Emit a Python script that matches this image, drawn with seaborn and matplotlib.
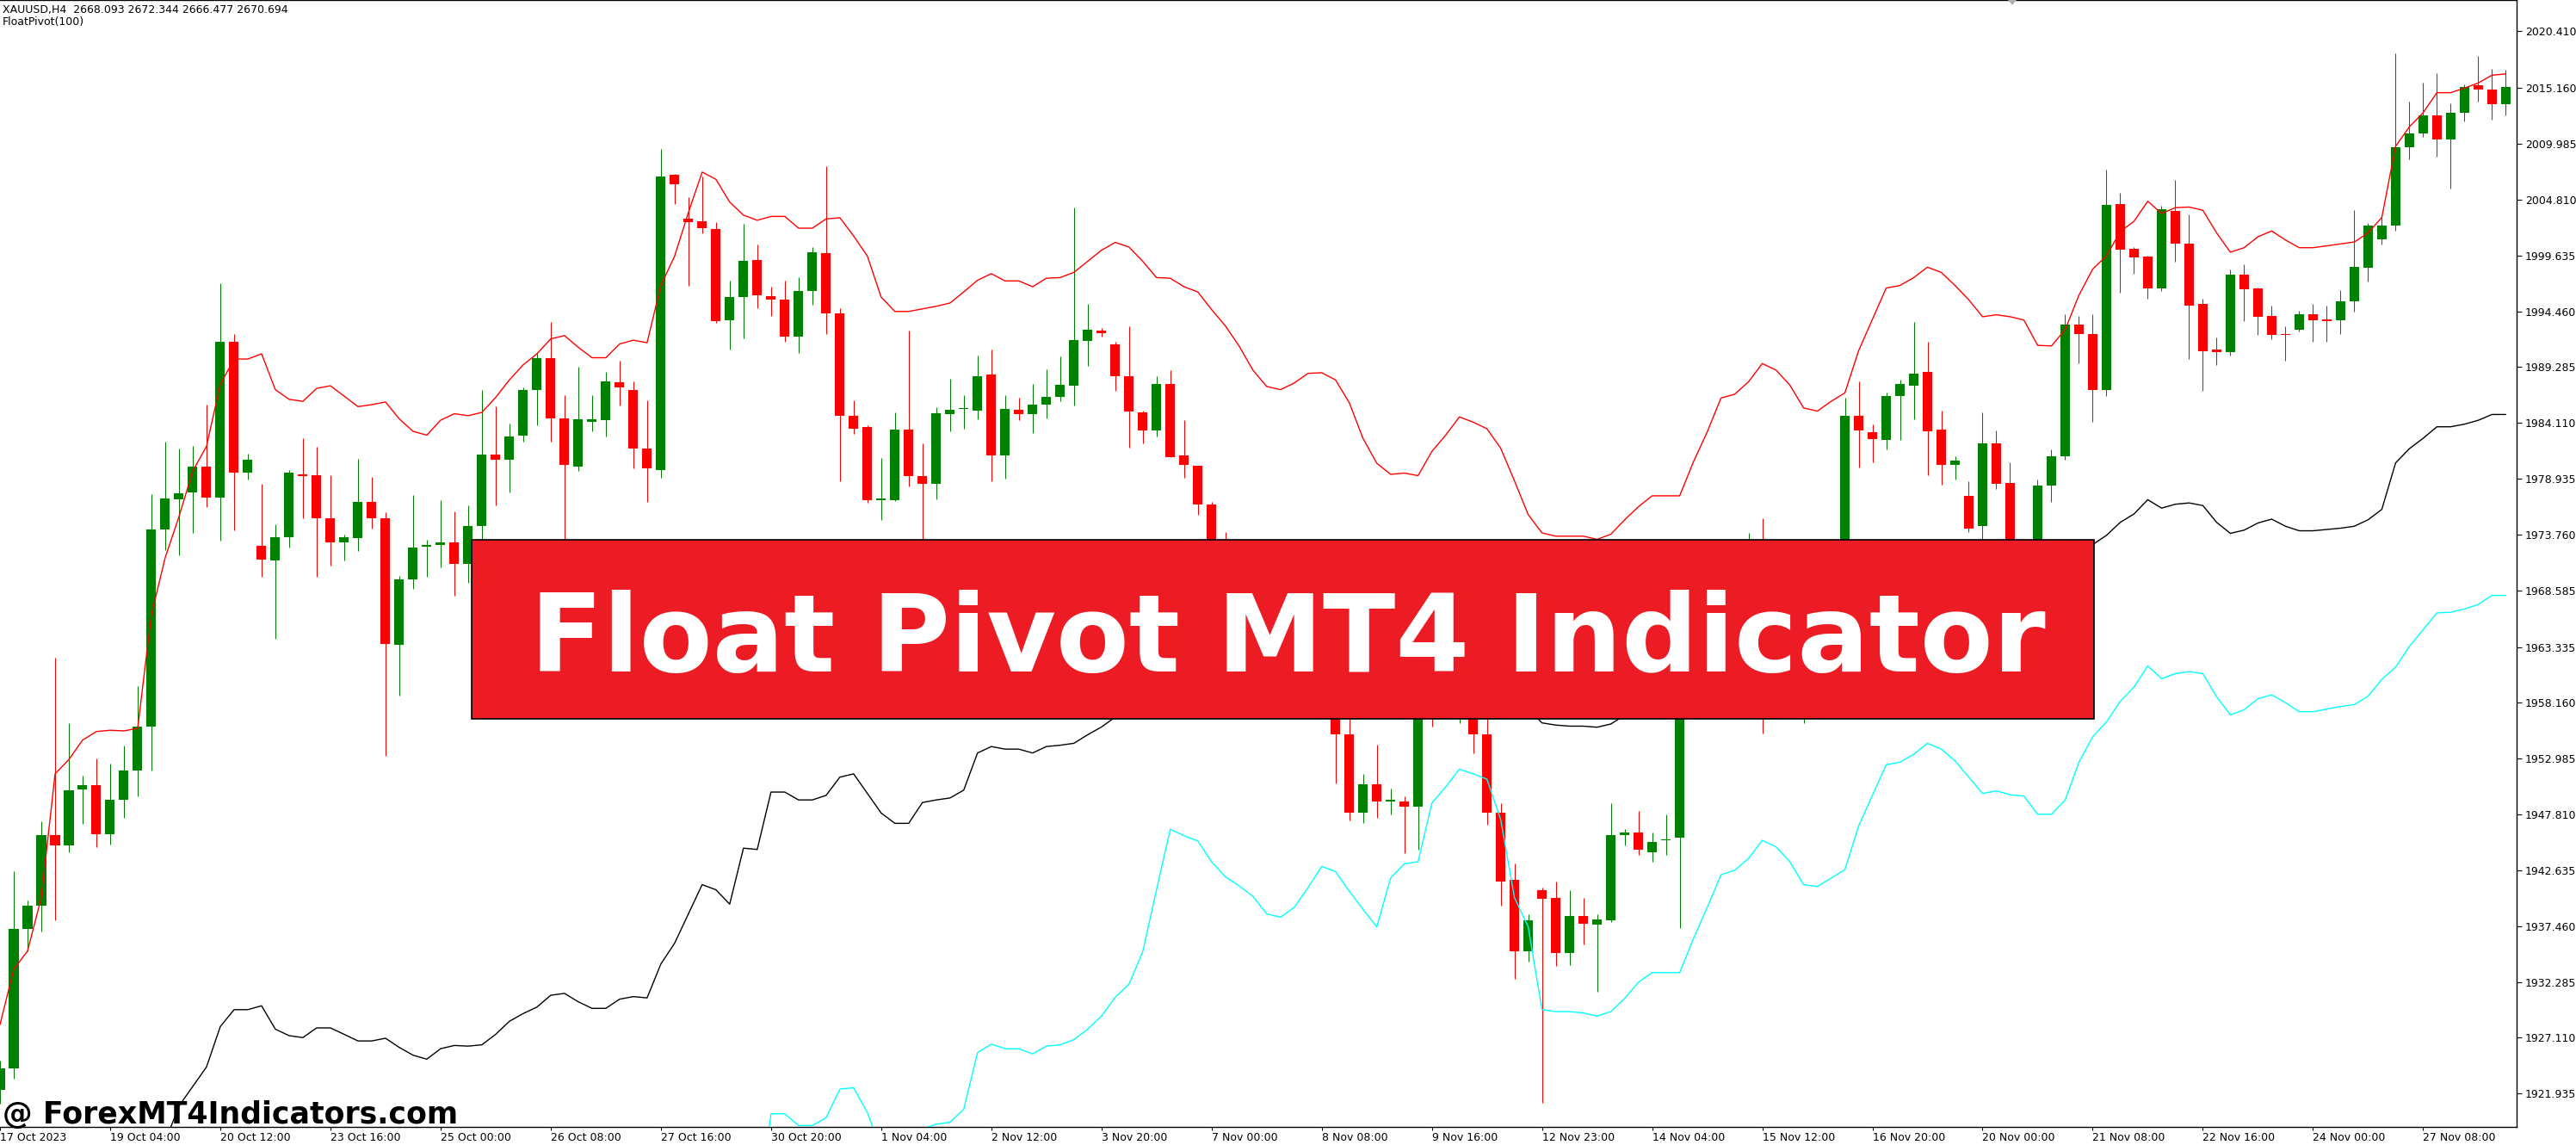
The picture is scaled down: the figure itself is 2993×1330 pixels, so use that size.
#module begins
'''
XAUUSD H4 chart with the FloatPivot(100) indicator, redrawn with seaborn.
Values were read off the screenshot by eye.
'''

#imports
import numpy as np
import pandas as pd
import seaborn as sns
import matplotlib
matplotlib.use("Agg")
import matplotlib.pyplot as plt
from matplotlib.patches import Rectangle, Polygon

#candles, one entry per H4 bar
opens = [
    1922.30, 1924.29, 1937.21, 1939.32, 1945.90, 1944.93, 1950.13, 1950.55, 1946.02, 1949.16,
    1951.88, 1955.92, 1974.27, 1977.05, 1977.65, 1980.07, 1977.17, 1991.60, 1979.53, 1972.70,
    1971.38, 1973.49, 1979.34, 1979.22, 1975.24, 1973.01, 1973.43, 1976.75, 1975.24, 1963.53,
    1969.63, 1972.64, 1972.83, 1973.07, 1971.07, 1974.58, 1981.16, 1980.67, 1982.91, 1987.19,
    1990.09, 1984.54, 1980.07, 1984.24, 1984.36, 1987.86, 1987.19, 1981.76, 1979.77, 2007.11,
    2003.07, 2002.77, 2002.10, 1993.65, 1995.76, 1999.21, 1995.88, 1995.52, 1992.14, 1996.37,
    1999.87, 1994.26, 1984.78, 1983.69, 1976.93, 1976.93, 1983.45, 1979.16, 1978.44, 1984.90,
    1985.38, 1985.26, 1988.58, 1981.10, 1985.32, 1984.90, 1985.80, 1986.53, 1987.56, 1991.72,
    1992.63, 1991.42, 1988.46, 1985.08, 1983.39, 1987.68, 1981.10, 1980.13, 1976.57, 1971.80,
    1969.20, 1970.60, 1966.80, 1967.90, 1963.10, 1964.90, 1961.20, 1962.60, 1955.20, 1947.95,
    1950.61, 1949.04, 1949.04, 1948.56, 1962.00, 1958.70, 1960.20, 1961.00, 1955.20, 1947.95,
    1941.74, 1935.10, 1940.83, 1940.11, 1934.97, 1938.42, 1937.57, 1937.99, 1945.90, 1946.14,
    1944.33, 1945.42, 1945.66, 1961.30, 1963.20, 1962.00, 1966.00, 1967.30, 1970.50, 1962.50,
    1963.80, 1962.20, 1963.50, 1964.80, 1962.60, 1984.78, 1983.27, 1982.54, 1986.59, 1987.56,
    1988.82, 1983.45, 1980.25, 1977.35, 1974.52, 1982.24, 1978.56, 1970.80, 1968.20, 1978.32,
    1981.04, 1993.23, 1992.32, 1987.19, 2004.36, 2000.23, 1999.51, 1996.57, 2003.76, 2000.70,
    1995.13, 1990.88, 1990.64, 1997.89, 1996.57, 1994.00, 1992.38, 1992.74, 1994.18, 1993.70,
    1993.64, 1995.37, 1998.49, 2001.12, 2002.44, 2009.63, 2010.95, 2012.62, 2010.35, 2012.86,
    2015.38, 2015.02, 2013.64,
]
highs = [
    1925.00, 1942.52, 1939.80, 1947.17, 1962.32, 1956.28, 1951.39, 1953.02, 1952.54, 1954.23,
    1959.73, 1977.53, 1982.36, 1981.76, 1982.00, 1985.80, 1997.09, 1992.32, 1981.28, 1978.44,
    1974.70, 1979.71, 1982.73, 1981.88, 1979.22, 1973.79, 1980.79, 1979.10, 1975.84, 1969.93,
    1977.41, 1973.31, 1976.93, 1975.90, 1976.45, 1987.19, 1985.68, 1984.05, 1987.43, 1990.69,
    1993.47, 1986.65, 1989.31, 1986.71, 1988.82, 1989.91, 1987.92, 1986.17, 2009.47, 2007.20,
    2005.00, 2006.99, 2002.71, 1997.33, 2002.53, 2000.65, 1996.73, 1997.27, 1997.58, 2000.41,
    2007.90, 1994.74, 1986.17, 1983.87, 1980.85, 1985.08, 1992.63, 1982.24, 1985.56, 1988.16,
    1986.65, 1990.33, 1990.94, 1986.65, 1986.47, 1987.74, 1989.06, 1990.27, 2004.10, 1995.16,
    1992.93, 1991.66, 1993.05, 1985.26, 1988.40, 1989.00, 1984.36, 1980.13, 1976.80, 1974.03,
    1971.50, 1972.20, 1968.90, 1969.00, 1965.80, 1966.00, 1963.50, 1964.00, 1957.50, 1951.58,
    1954.29, 1950.19, 1949.46, 1964.50, 1966.50, 1961.60, 1963.00, 1962.40, 1957.20, 1948.86,
    1943.24, 1938.60, 1941.01, 1941.61, 1940.83, 1940.11, 1938.60, 1948.86, 1946.44, 1948.13,
    1946.14, 1947.83, 1962.00, 1964.00, 1965.50, 1966.80, 1968.50, 1973.91, 1975.24, 1965.00,
    1966.00, 1964.00, 1966.00, 1966.70, 1986.47, 1987.92, 1983.99, 1986.89, 1988.10, 1993.47,
    1991.60, 1985.26, 1981.04, 1978.74, 1985.08, 1983.39, 1980.43, 1973.00, 1978.86, 1981.64,
    1994.20, 1994.00, 1994.20, 2007.60, 2005.44, 2000.41, 1999.60, 2004.24, 2006.63, 2003.46,
    1995.61, 1992.02, 1998.37, 1998.85, 1996.69, 1995.01, 1993.04, 1994.54, 1995.13, 1994.95,
    1996.45, 2003.82, 2002.62, 2003.22, 2018.37, 2013.88, 2015.62, 2016.52, 2013.70, 2015.50,
    2018.13, 2016.94, 2016.82,
]
lows = [
    1921.00, 1923.32, 1935.16, 1936.97, 1937.99, 1944.33, 1946.93, 1944.81, 1945.06, 1947.53,
    1949.46, 1951.88, 1972.34, 1971.80, 1973.91, 1976.33, 1973.19, 1974.15, 1978.86, 1969.87,
    1964.13, 1972.58, 1975.24, 1969.87, 1970.89, 1971.32, 1972.22, 1974.33, 1953.27, 1958.82,
    1968.72, 1969.81, 1970.71, 1968.12, 1969.26, 1972.70, 1976.45, 1977.65, 1982.36, 1983.87,
    1982.36, 1971.00, 1979.65, 1983.33, 1982.85, 1985.74, 1979.89, 1976.75, 1979.04, 2004.40,
    1996.85, 2001.68, 1993.41, 1990.94, 1991.96, 1994.74, 1994.01, 1991.66, 1990.57, 1995.04,
    1992.38, 1978.74, 1983.09, 1976.69, 1975.12, 1976.87, 1978.26, 1972.10, 1977.05, 1983.33,
    1983.57, 1984.48, 1978.74, 1978.92, 1984.36, 1983.15, 1984.54, 1986.11, 1985.74, 1989.37,
    1992.14, 1987.07, 1981.82, 1982.18, 1982.85, 1980.90, 1979.04, 1975.60, 1971.00, 1968.50,
    1966.80, 1965.90, 1964.20, 1962.00, 1961.30, 1960.40, 1958.90, 1950.67, 1947.23, 1947.05,
    1947.47, 1947.83, 1944.21, 1944.51, 1955.92, 1957.40, 1956.29, 1953.51, 1946.87, 1939.38,
    1932.56, 1934.19, 1921.09, 1933.77, 1933.89, 1935.76, 1931.35, 1937.81, 1944.93, 1944.03,
    1943.43, 1944.03, 1937.27, 1959.20, 1961.00, 1961.40, 1964.60, 1966.20, 1955.32, 1960.00,
    1961.20, 1956.28, 1962.00, 1961.80, 1961.50, 1979.95, 1980.43, 1981.64, 1982.54, 1984.48,
    1979.22, 1978.38, 1978.86, 1974.03, 1972.70, 1978.02, 1969.50, 1966.50, 1967.40, 1976.81,
    1980.67, 1989.61, 1984.17, 1986.59, 1996.21, 1997.95, 1995.61, 1996.33, 1999.09, 1990.04,
    1987.05, 1989.44, 1990.34, 1993.52, 1992.26, 1991.90, 1989.86, 1992.62, 1991.66, 1991.66,
    1992.32, 1994.41, 1997.23, 2000.64, 2001.90, 2008.55, 2010.59, 2008.79, 2005.80, 2012.02,
    2013.88, 2012.20, 2012.62,
]
closes = [
    1924.27, 1937.21, 1939.32, 1945.90, 1944.93, 1950.07, 1950.55, 1946.02, 1949.16, 1951.88,
    1955.92, 1974.27, 1977.11, 1977.59, 1980.07, 1977.17, 1991.60, 1979.53, 1980.67, 1971.44,
    1973.49, 1979.47, 1979.16, 1975.24, 1973.01, 1973.49, 1976.75, 1975.24, 1963.59, 1969.63,
    1972.58, 1972.83, 1973.07, 1971.07, 1974.58, 1981.16, 1980.73, 1982.85, 1987.19, 1990.09,
    1984.54, 1980.19, 1984.42, 1984.42, 1987.92, 1987.37, 1981.70, 1979.89, 2006.99, 2006.21,
    2002.71, 2002.16, 1993.53, 1995.76, 1999.15, 1995.95, 1995.52, 1992.14, 1996.37, 1999.93,
    1994.26, 1984.78, 1983.57, 1976.93, 1977.11, 1983.45, 1979.16, 1978.44, 1985.02, 1985.32,
    1985.50, 1988.46, 1981.10, 1985.38, 1984.90, 1985.80, 1986.53, 1987.62, 1991.78, 1992.75,
    1992.45, 1988.46, 1985.14, 1983.39, 1987.68, 1980.97, 1980.25, 1976.57, 1971.80, 1969.20,
    1970.60, 1966.80, 1967.90, 1963.10, 1964.90, 1961.20, 1962.60, 1955.20, 1947.95, 1950.61,
    1948.98, 1949.16, 1948.50, 1962.00, 1958.70, 1960.20, 1961.00, 1955.20, 1947.95, 1941.61,
    1935.10, 1937.99, 1939.99, 1934.97, 1938.42, 1937.69, 1938.11, 1945.90, 1946.14, 1944.51,
    1945.24, 1945.54, 1961.30, 1963.20, 1962.00, 1966.00, 1967.30, 1970.50, 1962.50, 1963.80,
    1962.20, 1963.50, 1964.80, 1962.60, 1984.78, 1983.39, 1982.60, 1986.59, 1987.68, 1988.64,
    1983.33, 1980.25, 1980.61, 1974.33, 1982.24, 1978.44, 1970.80, 1968.20, 1978.32, 1981.04,
    1993.23, 1992.32, 1987.19, 2004.28, 2000.17, 1999.45, 1996.57, 2003.88, 2000.70, 1995.01,
    1990.76, 1990.64, 1997.89, 1996.51, 1993.94, 1992.26, 1992.26, 1994.18, 1993.64, 1993.58,
    1995.37, 1998.55, 2002.44, 2002.44, 2009.63, 2010.95, 2012.62, 2010.35, 2012.86, 2015.26,
    2015.02, 2013.64, 2015.26,
]

#FloatPivot(100) lines
upper = [
    1928.33, 1933.47, 1935.16, 1940.11, 1951.58, 1952.90, 1954.71, 1955.50, 1955.62, 1955.56,
    1955.80, 1966.37, 1971.62, 1975.42, 1979.65, 1981.94, 1987.68, 1990.03, 1990.03, 1990.51,
    1987.19, 1986.29, 1986.11, 1987.31, 1987.55, 1986.59, 1985.62, 1985.80, 1986.05, 1984.48,
    1983.33, 1982.97, 1984.36, 1984.96, 1984.78, 1985.08, 1986.47, 1988.10, 1989.49, 1990.51,
    1991.90, 1992.20, 1991.12, 1990.15, 1990.15, 1991.42, 1991.78, 1991.54, 1996.85, 1999.57,
    2003.61, 2007.36, 2006.69, 2004.58, 2003.37, 2002.89, 2003.25, 2003.25, 2002.16, 2002.16,
    2003.01, 2003.13, 2001.44, 1999.57, 1995.77, 1994.44, 1994.44, 1994.68, 1994.92, 1995.22,
    1996.25, 1997.33, 1997.94, 1997.27, 1997.27, 1996.73, 1997.52, 1997.58, 1998.06, 1999.09,
    2000.11, 2000.84, 2000.41, 1999.09, 1997.58, 1997.52, 1996.73, 1996.25, 1994.62, 1993.11,
    1991.24, 1989.00, 1987.49, 1987.19, 1987.80, 1988.70, 1988.76, 1988.10, 1985.99, 1982.67,
    1980.37, 1979.34, 1979.46, 1979.22, 1981.46, 1982.97, 1984.66, 1984.18, 1983.57, 1981.76,
    1978.74, 1975.60, 1973.91, 1973.61, 1973.61, 1973.61, 1973.31, 1973.79, 1975.12, 1976.33,
    1977.35, 1977.35, 1977.35, 1980.50, 1983.27, 1986.41, 1986.77, 1987.92, 1989.61, 1989.00,
    1987.62, 1985.50, 1985.20, 1986.11, 1986.89, 1990.81, 1993.71, 1996.61, 1996.85, 1997.58,
    1998.54, 1998.06, 1996.85, 1995.52, 1993.95, 1994.13, 1993.95, 1993.65, 1991.30, 1991.24,
    1992.75, 1995.95, 1998.36, 1999.60, 2001.84, 2002.80, 2004.66, 2003.52, 2004.06, 2004.12,
    2003.82, 2001.72, 1999.93, 2000.35, 2001.36, 2001.90, 2001.06, 2000.35, 2000.35, 2000.52,
    2000.70, 2000.88, 2001.72, 2003.16, 2009.75, 2011.55, 2012.86, 2014.72, 2014.72, 2015.14,
    2015.62, 2016.34, 2016.46,
]
middle_start = 11
middle = [
    1910.00, 1917.50, 1920.79, 1922.60, 1924.41, 1928.15, 1929.72, 1929.72, 1930.08, 1927.91,
    1927.31, 1927.13, 1928.03, 1928.03, 1927.43, 1926.82, 1926.82, 1927.07, 1926.22, 1925.50,
    1925.13, 1926.10, 1926.40, 1926.34, 1926.46, 1927.43, 1928.64, 1929.36, 1929.96, 1931.05,
    1931.23, 1930.45, 1929.84, 1929.84, 1930.69, 1930.93, 1930.81, 1933.95, 1935.88, 1938.60,
    1941.31, 1940.83, 1939.50, 1944.69, 1944.57, 1949.89, 1949.89, 1949.16, 1949.16, 1949.58,
    1951.27, 1951.58, 1949.76, 1947.95, 1946.99, 1946.99, 1948.92, 1949.16, 1949.34, 1950.07,
    1953.51, 1954.11, 1953.87, 1953.87, 1953.51, 1954.11, 1954.23, 1954.41, 1955.20, 1955.92,
    1956.83, 1957.30, 1957.00, 1957.50, 1958.50, 1958.80, 1959.00, 1958.90, 1958.70, 1958.40,
    1958.20, 1958.00, 1958.10, 1958.50, 1959.20, 1959.60, 1959.40, 1958.90, 1958.30, 1957.80,
    1959.00, 1959.60, 1959.70, 1961.50, 1962.30, 1963.10, 1962.90, 1962.60, 1961.40, 1959.30,
    1957.60, 1956.30, 1956.10, 1956.00, 1956.00, 1955.90, 1956.20, 1957.00, 1958.20, 1959.00,
    1959.00, 1959.00, 1960.80, 1962.00, 1963.20, 1963.40, 1963.90, 1964.60, 1964.30, 1963.80,
    1962.90, 1962.80, 1963.20, 1963.60, 1965.40, 1966.80, 1968.20, 1968.30, 1968.70, 1969.20,
    1968.90, 1968.30, 1967.60, 1966.90, 1967.00, 1966.90, 1966.80, 1966.10, 1966.10, 1966.70,
    1969.00, 1972.83, 1973.69, 1974.89, 1975.67, 1976.99, 1976.21, 1976.57, 1976.69, 1976.45,
    1974.89, 1973.87, 1974.17, 1974.83, 1975.19, 1974.53, 1974.11, 1974.11, 1974.23, 1974.35,
    1974.53, 1975.13, 1976.09, 1980.40, 1981.72, 1982.68, 1983.75, 1983.75, 1983.99, 1984.35,
    1984.89, 1984.89,
]
lower_start = 55
lower = [
    1910.00, 1920.06, 1920.06, 1918.98, 1918.98, 1919.70, 1922.36, 1922.48, 1920.18, 1916.80,
    1915.90, 1915.90, 1918.68, 1919.10, 1919.28, 1920.49, 1925.74, 1926.52, 1926.10, 1926.10,
    1925.62, 1926.34, 1926.46, 1926.94, 1927.91, 1929.12, 1930.87, 1932.08, 1935.09, 1940.83,
    1946.44, 1945.84, 1945.36, 1943.43, 1942.04, 1941.19, 1940.23, 1938.60, 1938.29, 1939.20,
    1941.01, 1943.00, 1942.52, 1940.71, 1939.02, 1937.39, 1941.92, 1943.24, 1943.43, 1948.86,
    1950.37, 1952.00, 1951.58, 1951.09, 1947.35, 1940.11, 1937.39, 1929.72, 1929.54, 1929.54,
    1929.42, 1929.12, 1929.54, 1930.75, 1932.26, 1933.16, 1933.16, 1933.16, 1936.30, 1939.20,
    1942.22, 1942.64, 1943.73, 1945.42, 1944.81, 1943.43, 1941.31, 1941.13, 1941.92, 1942.70,
    1946.75, 1949.58, 1952.42, 1952.66, 1953.39, 1954.41, 1953.87, 1952.78, 1951.27, 1949.76,
    1950.00, 1949.64, 1949.52, 1947.83, 1947.83, 1949.16, 1952.66, 1955.02, 1956.40, 1958.30,
    1959.62, 1961.59, 1960.40, 1960.87, 1961.05, 1960.87, 1958.72, 1957.04, 1957.52, 1958.54,
    1958.90, 1958.18, 1957.34, 1957.34, 1957.58, 1957.82, 1958.00, 1958.78, 1960.34, 1961.47,
    1963.39, 1964.95, 1966.50, 1966.56, 1966.86, 1967.28, 1968.12, 1968.12,
]

#axis labels
price_ticks = [2020.410, 2015.160, 2009.985, 2004.810, 1999.635, 1994.460, 1989.285,
               1984.110, 1978.935, 1973.760, 1968.585, 1963.335, 1958.160, 1952.985,
               1947.810, 1942.635, 1937.460, 1932.285, 1927.110, 1921.935]
date_labels = ['17 Oct 2023', '19 Oct 04:00', '20 Oct 12:00', '23 Oct 16:00', '25 Oct 00:00',
               '26 Oct 08:00', '27 Oct 16:00', '30 Oct 20:00', '1 Nov 04:00', '2 Nov 12:00',
               '3 Nov 20:00', '7 Nov 00:00', '8 Nov 08:00', '9 Nov 16:00', '12 Nov 23:00',
               '14 Nov 04:00', '15 Nov 12:00', '16 Nov 20:00', '20 Nov 00:00', '21 Nov 08:00',
               '22 Nov 16:00', '24 Nov 00:00', '27 Nov 08:00']
label_every = 8

W, H = 2993, 1330
GREEN = '#008000'
RED = '#ff0000'

sns.set_style("white")
plt.rcParams['font.family'] = ['DejaVu Sans']

fig = plt.figure(figsize=(W / 100, H / 100), dpi=100)
fig.patch.set_facecolor('white')
ax = fig.add_axes([0, 21 / H, 2924 / W, 1309 / H])

#candles
bars = np.arange(len(opens))
o = np.array(opens)
c = np.array(closes)
colors = np.where(c >= o, GREEN, RED)
ax.vlines(bars, lows, highs, colors=colors, linewidth=0.75, zorder=2)
ax.bar(bars, np.maximum(np.abs(c - o), 0.1), bottom=np.minimum(o, c), width=0.69,
       color=colors, linewidth=0, zorder=2)

#indicator lines
df_up = pd.DataFrame({'bar': bars, 'price': upper})
df_mid = pd.DataFrame({'bar': np.arange(middle_start, middle_start + len(middle)), 'price': middle})
df_low = pd.DataFrame({'bar': np.arange(lower_start, lower_start + len(lower)), 'price': lower})
sns.lineplot(data=df_low, x='bar', y='price', color='#00ffff', linewidth=1.0,
             estimator=None, ax=ax, zorder=3)
sns.lineplot(data=df_mid, x='bar', y='price', color='black', linewidth=1.0,
             estimator=None, ax=ax, zorder=3)
sns.lineplot(data=df_up, x='bar', y='price', color=RED, linewidth=1.0,
             estimator=None, ax=ax, zorder=3)

#axes
ax.set_xlim(0.044, 182.79)
ax.set_ylim(1918.85, 2023.31)
ax.set_xlabel('')
ax.set_ylabel('')
ax.set_facecolor('white')
ax.yaxis.tick_right()
ax.set_yticks(price_ticks)
ax.set_yticklabels([f'{p:.3f}' for p in price_ticks])
ax.set_xticks(np.arange(len(date_labels)) * label_every)
ax.set_xticklabels(date_labels, ha='left')
ax.tick_params(axis='y', which='both', right=True, left=False, labelright=True,
               labelleft=False, direction='out', length=4, width=0.8, pad=3,
               labelsize=9, colors='black')
ax.tick_params(axis='x', bottom=True, direction='out', length=3, width=0.8, pad=1,
               labelsize=9, colors='black')
for side in ['top', 'right', 'bottom']:
    ax.spines[side].set_visible(True)
    ax.spines[side].set_color('black')
    ax.spines[side].set_linewidth(1.0)
ax.spines['left'].set_visible(False)

#header
fig.text(3 / W, 1 - 12 / H, 'XAUUSD,H4  2668.093 2672.344 2666.477 2670.694',
         fontsize=9, color='black', va='center', ha='left')
fig.text(3 / W, 1 - 25 / H, 'FloatPivot(100)', fontsize=9, color='black',
         va='center', ha='left')
fig.add_artist(Polygon([(2333 / W, 1.0), (2343 / W, 1.0), (2338 / W, 1 - 6 / H)],
                       closed=True, transform=fig.transFigure, facecolor='#b0b0b0',
                       edgecolor='none'))

#banner
fig.add_artist(Rectangle((548 / W, 1 - 835 / H), (2433 - 548) / W, (835 - 627) / H,
                         transform=fig.transFigure, facecolor='#ed1c24',
                         edgecolor='black', linewidth=1.2, zorder=5))
fig.text(1496 / W, 1 - 780 / H, 'Float Pivot MT4 Indicator', fontsize=89,
         fontweight='bold', color='white', ha='center', va='baseline', zorder=6)

#watermark
fig.text(3 / W, 1 - 1305 / H, '@ ForexMT4Indicators.com', fontsize=25,
         fontweight='bold', color='black', ha='left', va='baseline', zorder=6)

fig.savefig('out.png', dpi=100, facecolor='white')
#
